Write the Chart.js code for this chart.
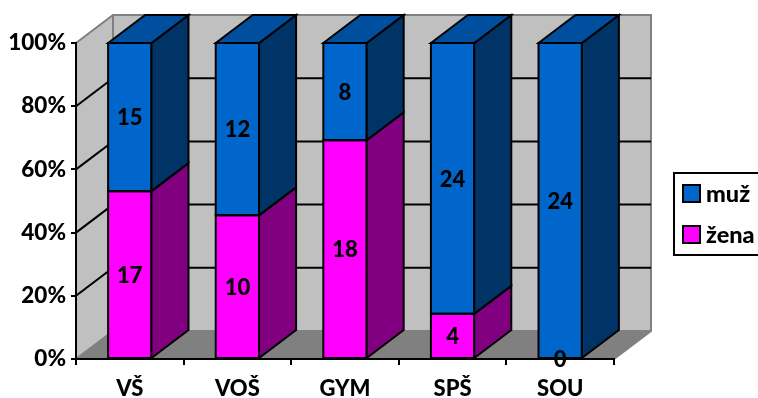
<!DOCTYPE html>
<html>
<head>
<meta charset="utf-8">
<style>html,body{margin:0;padding:0;background:#fff;overflow:hidden}canvas{display:block}</style>
<script src="https://cdn.jsdelivr.net/npm/chart.js@4"></script>
</head>
<body>
<canvas id="c" width="758" height="398"></canvas>
<script>
// Head counts per school type
const categories = ['VŠ', 'VOŠ', 'GYM', 'SPŠ', 'SOU'];
const zenaCounts = [17, 10, 18, 4, 0];
const muzCounts = [15, 12, 8, 24, 24];
const percentTicks = [0, 20, 40, 60, 80, 100];

const FONT = 'Lato, Carlito, sans-serif';
const WEIGHT = 900;
const DEPTH_X = 37, DEPTH_Y = 28;

// Each column is stacked to 100 %, so segments are drawn as shares of the column total
const share = (own, other) => own.map((v, i) => 100 * v / (v + other[i]));

const faces = {
  'žena': { front: '#FF00FF', side: '#800080', top: '#A000A0' },
  'muž': { front: '#0066CC', side: '#003366', top: '#004F9F' }
};

function poly(ctx, pts, fill, stroke, lw) {
  ctx.beginPath();
  pts.forEach((p, i) => i ? ctx.lineTo(p[0], p[1]) : ctx.moveTo(p[0], p[1]));
  ctx.closePath();
  if (fill) { ctx.fillStyle = fill; ctx.fill(); }
  if (stroke) { ctx.strokeStyle = stroke; ctx.lineWidth = lw; ctx.lineJoin = 'miter'; ctx.stroke(); }
}

// Back wall, side wall, floor and the gridlines running over the walls
const room = {
  id: 'room',
  beforeDraw(chart) {
    const { ctx, chartArea: a, scales: { y } } = chart;
    const dx = DEPTH_X, dy = DEPTH_Y;
    ctx.save();
    poly(ctx, [[a.left + dx, a.top - dy], [a.right + dx, a.top - dy], [a.right + dx, a.bottom - dy], [a.left + dx, a.bottom - dy]], '#C0C0C0');
    poly(ctx, [[a.left, a.top], [a.left + dx, a.top - dy], [a.left + dx, a.bottom - dy], [a.left, a.bottom]], '#C0C0C0');
    poly(ctx, [[a.left, a.bottom], [a.left + dx, a.bottom - dy], [a.right + dx, a.bottom - dy], [a.right, a.bottom]], '#808080');
    // Grey edges of the room
    ctx.strokeStyle = '#808080';
    ctx.lineWidth = 2;
    ctx.beginPath();
    ctx.moveTo(a.left, a.top);
    ctx.lineTo(a.left + dx, a.top - dy);
    ctx.lineTo(a.right + dx, a.top - dy);
    ctx.lineTo(a.right + dx, a.bottom - dy);
    ctx.lineTo(a.right, a.bottom);
    ctx.moveTo(a.left + dx, a.top - dy);
    ctx.lineTo(a.left + dx, a.bottom - dy);
    ctx.lineTo(a.left, a.bottom);
    ctx.moveTo(a.left + dx, a.bottom - dy);
    ctx.lineTo(a.right + dx, a.bottom - dy);
    ctx.stroke();
    // Gridlines
    ctx.strokeStyle = '#000';
    ctx.beginPath();
    percentTicks.slice(1, -1).forEach(t => {
      const py = y.getPixelForValue(t);
      ctx.moveTo(a.left, py);
      ctx.lineTo(a.left + dx, py - dy);
      ctx.lineTo(a.right + dx, py - dy);
    });
    ctx.stroke();
    ctx.restore();
  }
};

// Outlines, side and top faces of every bar, plus the count labels
const prisms = {
  id: 'prisms',
  afterDatasetsDraw(chart) {
    const { ctx } = chart;
    const dx = DEPTH_X, dy = DEPTH_Y;
    ctx.save();
    chart.data.datasets.forEach((ds, di) => {
      chart.getDatasetMeta(di).data.forEach((bar, i) => {
        if (ds.data[i] === 0) return;
        const r = bar.x + bar.width / 2, l = bar.x - bar.width / 2;
        const f = faces[ds.label];
        poly(ctx, [[l, bar.y], [r, bar.y], [r, bar.base], [l, bar.base]], null, '#000', 2);
        poly(ctx, [[r, bar.y], [r + dx, bar.y - dy], [r + dx, bar.base - dy], [r, bar.base]], f.side, '#000', 2);
        if (di === chart.data.datasets.length - 1) {
          poly(ctx, [[l, bar.y], [l + dx, bar.y - dy], [r + dx, bar.y - dy], [r, bar.y]], f.top, '#000', 2);
        }
      });
    });
    ctx.fillStyle = '#000';
    ctx.font = WEIGHT + ' 22px ' + FONT;
    ctx.textAlign = 'center';
    ctx.textBaseline = 'middle';
    chart.data.datasets.forEach((ds, di) => {
      chart.getDatasetMeta(di).data.forEach((bar, i) => {
        ctx.fillText(String(ds.counts[i]), bar.x, (bar.y + bar.base) / 2 + 1);
      });
    });
    ctx.restore();
  }
};

// Framed key on the right, muž listed first
const sideKey = {
  id: 'sideKey',
  afterDraw(chart) {
    const { ctx } = chart;
    ctx.save();
    ctx.fillStyle = '#fff';
    ctx.strokeStyle = '#000';
    ctx.lineWidth = 2;
    ctx.fillRect(674, 173, 90, 82);
    ctx.strokeRect(674, 173, 90, 82);
    ctx.font = WEIGHT + ' 23.5px ' + FONT;
    ctx.textBaseline = 'middle';
    ctx.textAlign = 'left';
    ['muž', 'žena'].forEach((name, i) => {
      const top = 185 + i * 41;
      ctx.fillStyle = faces[name].front;
      ctx.fillRect(683, top, 17, 17);
      ctx.strokeRect(683, top, 17, 17);
      ctx.fillStyle = '#000';
      ctx.fillText(name, 706, top + 9);
    });
    ctx.restore();
  }
};

new Chart(document.getElementById('c'), {
  type: 'bar',
  data: {
    labels: categories,
    datasets: [
      { label: 'žena', counts: zenaCounts, data: share(zenaCounts, muzCounts), backgroundColor: faces['žena'].front },
      { label: 'muž', counts: muzCounts, data: share(muzCounts, zenaCounts), backgroundColor: faces['muž'].front }
    ]
  },
  options: {
    responsive: false,
    animation: false,
    devicePixelRatio: 1,
    layout: { padding: { top: 43, right: 144, left: 0, bottom: 0 } },
    plugins: { legend: { display: false }, tooltip: { enabled: false } },
    datasets: {
      bar: { categoryPercentage: 1, barPercentage: 0.403, borderWidth: 0 }
    },
    scales: {
      x: {
        stacked: true,
        afterFit(s) { s.height = 39; },
        grid: { drawOnChartArea: false, drawTicks: true, tickLength: 6, color: '#000', lineWidth: 2 },
        border: { color: '#000', width: 2 },
        ticks: { color: '#000', font: { family: FONT, size: 22, weight: WEIGHT }, padding: 11, maxRotation: 0 }
      },
      y: {
        stacked: true,
        min: 0,
        max: 100,
        afterFit(s) { s.width = 76; },
        afterBuildTicks(s) { s.ticks = percentTicks.map(value => ({ value })); },
        grid: { drawOnChartArea: false, drawTicks: true, tickLength: 5, color: '#000', lineWidth: 2 },
        border: { color: '#000', width: 2 },
        ticks: { color: '#000', font: { family: FONT, size: 22.5, weight: WEIGHT }, padding: 5, callback: v => v + '%' }
      }
    }
  },
  plugins: [room, prisms, sideKey]
});
</script>
</body>
</html>
